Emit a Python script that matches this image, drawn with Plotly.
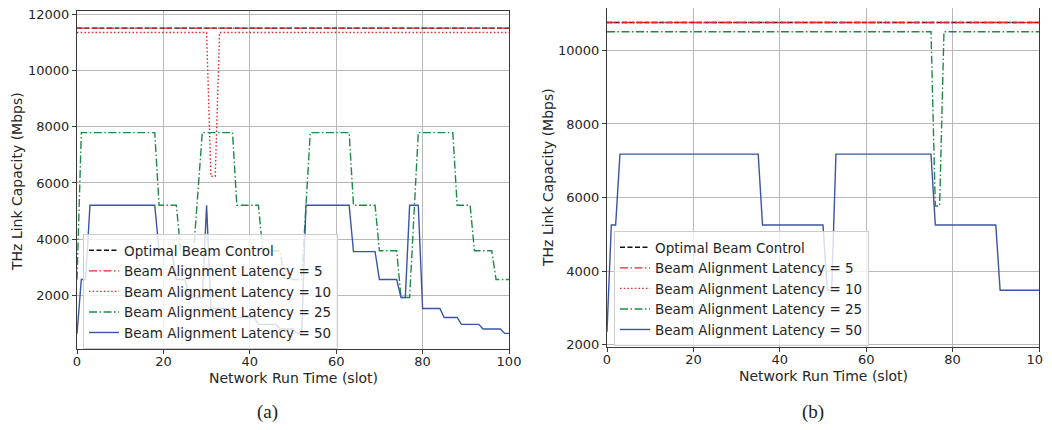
import plotly.graph_objects as go

# ---------------- data: panel (a) ----------------
a_opt_x = [0, 100]
a_opt_y = [11500, 11500]
a_l5_x = [0, 100]
a_l5_y = [11500, 11500]
a_l10_x = [0, 30, 31, 32, 33, 100]
a_l10_y = [11345, 11345, 6240, 6240, 11345, 11345]
a_l25_x = [0, 1, 18, 19, 23, 24, 27, 29, 36, 37, 42, 43, 47, 48, 52, 54, 63, 64, 69, 70,
           74, 75, 77, 79, 87, 88, 91, 92, 96, 97, 100]
a_l25_y = [2570, 7790, 7790, 5210, 5210, 3590, 3590, 7790, 7790, 5210, 5210, 3590, 3590, 2570,
           2570, 7790, 7790, 5210, 5210, 3590, 3590, 1930, 1930, 7790, 7790, 5210, 5210, 3590,
           3590, 2570, 2570]
a_l50_x = [0, 1, 2, 3, 18, 19, 22, 23, 25, 26, 29, 30, 31, 35, 36, 41, 42, 46, 47, 50, 51, 52,
           53, 63, 64, 69, 70, 74, 75, 76, 77, 79, 80, 84, 85, 88, 89, 93, 94, 98, 99, 100]
a_l50_y = [640, 2570, 2570, 5210, 5210, 3560, 3560, 2570, 2570, 1930, 1930, 5210, 1540, 1540,
           1220, 1220, 975, 975, 810, 810, 655, 655, 5210, 5210, 3560, 3560, 2570, 2570, 1930,
           1930, 5210, 5210, 1540, 1540, 1220, 1220, 975, 975, 810, 810, 655, 655]

# ---------------- data: panel (b) ----------------
b_opt_x = [0, 100]
b_opt_y = [10760, 10760]
b_l5_x = [0, 100]
b_l5_y = [10760, 10760]
b_l10_x = [0, 100]
b_l10_y = [10760, 10760]
b_l25_x = [0, 75, 76, 77, 78, 100]
b_l25_y = [10510, 10510, 5770, 5770, 10510, 10510]
b_l50_x = [0, 1, 2, 3, 35, 36, 50, 51, 52, 53, 75, 76, 90, 91, 100]
b_l50_y = [2350, 5250, 5250, 7180, 7180, 5250, 5250, 3475, 3475, 7180, 7180, 5250, 5250, 3475, 3475]

names = ["Optimal Beam Control", "Beam Alignment Latency = 5", "Beam Alignment Latency = 10",
         "Beam Alignment Latency = 25", "Beam Alignment Latency = 50"]
xticks = [0, 20, 40, 60, 80, 100]
a_yticks = [2000, 4000, 6000, 8000, 10000, 12000]
b_yticks = [2000, 4000, 6000, 8000, 10000]

styles = [
    dict(color="#111111", dash="5px,2.5px"),
    dict(color="#e4262b", dash="8px,2.5px,1.5px,2.5px"),
    dict(color="#e4262b", dash="1.5px,2.2px"),
    dict(color="#1f8a48", dash="8px,2.5px,1.5px,2.5px"),
    dict(color="#3b55a6", dash="solid"),
]

# page body has an 8px margin: the figure starts at (8, 8); keep the page from overflowing
OFF = 8
W, H = 1052 - OFF, 430 - 2 * OFF
def px(x):
    return min(1.0, max(0.0, (x - OFF) / W))
def py(y):
    return min(1.0, max(0.0, 1 - (y - OFF) / H))

fig = go.Figure()
series_a = [(a_opt_x, a_opt_y), (a_l5_x, a_l5_y), (a_l10_x, a_l10_y), (a_l25_x, a_l25_y), (a_l50_x, a_l50_y)]
series_b = [(b_opt_x, b_opt_y), (b_l5_x, b_l5_y), (b_l10_x, b_l10_y), (b_l25_x, b_l25_y), (b_l50_x, b_l50_y)]
for i, (xs, ys) in enumerate(series_a):
    fig.add_trace(go.Scatter(x=xs, y=ys, mode="lines", name=names[i], xaxis="x", yaxis="y",
                             line=dict(width=1.4, **styles[i]), legend="legend"))
for i, (xs, ys) in enumerate(series_b):
    fig.add_trace(go.Scatter(x=xs, y=ys, mode="lines", name=names[i], xaxis="x2", yaxis="y2",
                             line=dict(width=1.4, **styles[i]), legend="legend2"))

tick_font = dict(family="DejaVu Sans", size=13, color="#262626")
title_font = dict(family="DejaVu Sans", size=14, color="#262626")
leg_font = dict(family="DejaVu Sans", size=13.5, color="#262626")
axcommon = dict(showline=True, mirror=True, linecolor="#3a3a3a", linewidth=1.3,
                ticks="outside", ticklen=4, tickwidth=1, tickcolor="#3a3a3a",
                showgrid=True, gridcolor="#b8b8b8", gridwidth=0.8, zeroline=False,
                tickfont=tick_font, tickformat="d", automargin=False,
                ticklabeloverflow="allow")
xcommon = dict(ticklabelstandoff=-4, **axcommon)

fig.update_layout(
    width=W, height=H, margin=dict(l=0, r=0, t=0, b=0),
    paper_bgcolor="white", plot_bgcolor="white", font=tick_font,
    xaxis=dict(domain=[px(77), px(509)], range=[0, 100], tickvals=xticks, anchor="y", **xcommon),
    yaxis=dict(domain=[py(349), py(11)], range=[100, 12110], tickvals=a_yticks, anchor="x", **axcommon),
    xaxis2=dict(domain=[px(607), px(1039)], range=[0, 100], tickvals=xticks, anchor="y2", **xcommon),
    yaxis2=dict(domain=[py(347), py(8)], range=[1932, 11156], tickvals=b_yticks, anchor="x2", **axcommon),
    legend=dict(x=px(83), y=py(234), xanchor="left", yanchor="top", bgcolor="rgba(255,255,255,0.8)",
                bordercolor="#cccccc", borderwidth=1, font=leg_font, tracegroupgap=0),
    legend2=dict(x=px(614), y=py(231), xanchor="left", yanchor="top", bgcolor="rgba(255,255,255,0.8)",
                 bordercolor="#cccccc", borderwidth=1, font=leg_font, tracegroupgap=0),
)

ann = [
    dict(text="Network Run Time (slot)", x=px(293), y=py(378)),
    dict(text="Network Run Time (slot)", x=px(823), y=py(376)),
    dict(text="THz Link Capacity (Mbps)", x=px(17), y=py(182), textangle=-90),
    dict(text="THz Link Capacity (Mbps)", x=px(548), y=py(178), textangle=-90),
]
for a in ann:
    fig.add_annotation(xref="paper", yref="paper", xanchor="center", yanchor="middle",
                       showarrow=False, font=title_font, **a)
cap_font = dict(family="Liberation Serif", size=19, color="#222222")
fig.add_annotation(text="(a)", x=px(267), y=py(412), xref="paper", yref="paper",
                   showarrow=False, font=cap_font, xanchor="center", yanchor="middle")
fig.add_annotation(text="(b)", x=px(813), y=py(412), xref="paper", yref="paper",
                   showarrow=False, font=cap_font, xanchor="center", yanchor="middle")

fig.write_html("out.html")
